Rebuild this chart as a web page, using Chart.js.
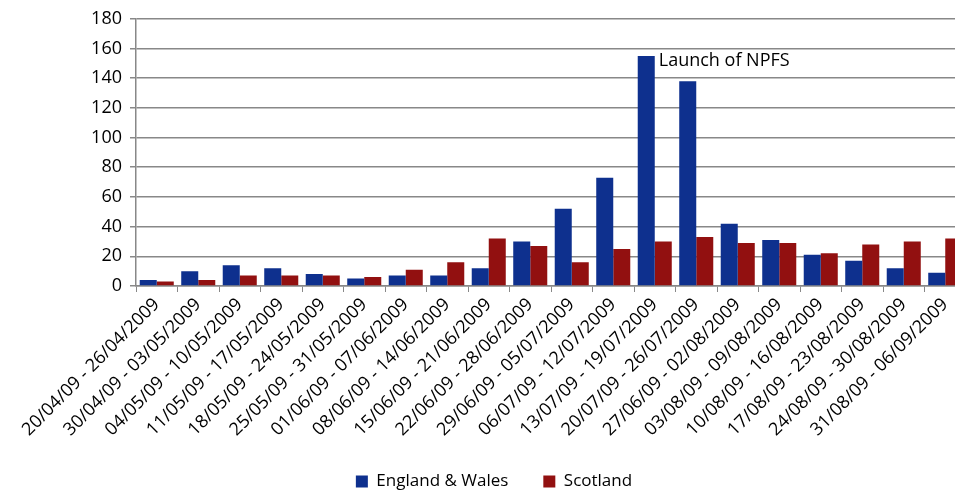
<!DOCTYPE html>
<html>
<head>
<meta charset="utf-8">
<script src="https://cdn.jsdelivr.net/npm/chart.js@4"></script>
<style>
  html, body { margin: 0; padding: 0; background: #fff; overflow: hidden; }
  /* plot runs a little past the right edge of the picture, as in the source */
  #wrap { width: 966px; height: 493px; }
</style>
</head>
<body>
<div id="wrap"><canvas id="chart"></canvas></div>
<script>
const weeks = [
  '20/04/09 - 26/04/2009', '30/04/09 - 03/05/2009', '04/05/09 - 10/05/2009',
  '11/05/09 - 17/05/2009', '18/05/09 - 24/05/2009', '25/05/09 - 31/05/2009',
  '01/06/09 - 07/06/2009', '08/06/09 - 14/06/2009', '15/06/09 - 21/06/2009',
  '22/06/09 - 28/06/2009', '29/06/09 - 05/07/2009', '06/07/09 - 12/07/2009',
  '13/07/09 - 19/07/2009', '20/07/09 - 26/07/2009', '27/06/09 - 02/08/2009',
  '03/08/09 - 09/08/2009', '10/08/09 - 16/08/2009', '17/08/09 - 23/08/2009',
  '24/08/09 - 30/08/2009', '31/08/09 - 06/09/2009'
];
const englandWales = [4, 10, 14, 12, 8, 5, 7, 7, 12, 30, 52, 73, 155, 138, 42, 31, 21, 17, 12, 9];
const scotland = [3, 4, 7, 7, 7, 6, 11, 16, 32, 27, 16, 25, 30, 33, 29, 29, 22, 28, 30, 32];
const yTicks = [0, 20, 40, 60, 80, 100, 120, 140, 160, 180];

const annotation = { text: 'Launch of NPFS', index: 12 };

const FONT = '"Open Sans", "DejaVu Sans", sans-serif';

// writes the NPFS note next to the tallest bar
const notePlugin = {
  id: 'note',
  afterDatasetsDraw(chart) {
    const bar = chart.getDatasetMeta(0).data[annotation.index];
    const y = chart.scales.y.getPixelForValue(englandWales[annotation.index]);
    const ctx = chart.ctx;
    ctx.save();
    ctx.font = '18px ' + FONT;
    ctx.fillStyle = '#000';
    ctx.textBaseline = 'middle';
    ctx.fillText(annotation.text, bar.x + bar.width / 2 + 4, y + 5);
    ctx.restore();
  }
};

// legend sits a bit right of centre in the source; the top is pulled up so
// the (clipped) legend box still holds its wide padding
const legendShift = {
  id: 'legendShift',
  afterLayout(chart) {
    const l = chart.legend;
    l.left += 11;
    l.right += 11;
    l.top -= 28;
  }
};

new Chart(document.getElementById('chart'), {
  type: 'bar',
  data: {
    labels: weeks,
    datasets: [
      {
        label: 'England & Wales',
        data: englandWales,
        backgroundColor: '#0e308e',
        borderWidth: 0,
        barPercentage: 1.0,
        categoryPercentage: 0.82
      },
      {
        label: 'Scotland',
        data: scotland,
        backgroundColor: '#921010',
        borderWidth: 0,
        barPercentage: 1.0,
        categoryPercentage: 0.82
      }
    ]
  },
  options: {
    responsive: true,
    maintainAspectRatio: false,
    animation: false,
    layout: { padding: { top: 10, right: 0, left: 0, bottom: 0 } },
    scales: {
      x: {
        grid: { drawOnChartArea: false, drawTicks: true, tickLength: 6, color: '#888', offset: true },
        border: { color: '#888', width: 1.5 },
        ticks: {
          autoSkip: false,
          minRotation: 45,
          maxRotation: 45,
          color: '#000',
          font: { family: FONT, size: 18 },
          padding: 2
        },
        afterFit: s => { s.height = 180; }
      },
      y: {
        min: 0,
        max: 180,
        afterBuildTicks: s => { s.ticks = yTicks.map(v => ({ value: v })); },
        grid: { color: '#888', lineWidth: 1.5, tickLength: 6 },
        border: { color: '#888', width: 1.5 },
        ticks: { color: '#000', font: { family: FONT, size: 18 }, padding: 8 },
        afterFit: s => { s.width = 136; }
      }
    },
    plugins: {
      legend: {
        position: 'bottom',
        maxHeight: 27,
        labels: {
          boxWidth: 12,
          boxHeight: 12,
          padding: 35,
          color: '#000',
          font: { family: FONT, size: 17 }
        }
      },
      tooltip: { enabled: false }
    }
  },
  plugins: [notePlugin, legendShift]
});
</script>
</body>
</html>
